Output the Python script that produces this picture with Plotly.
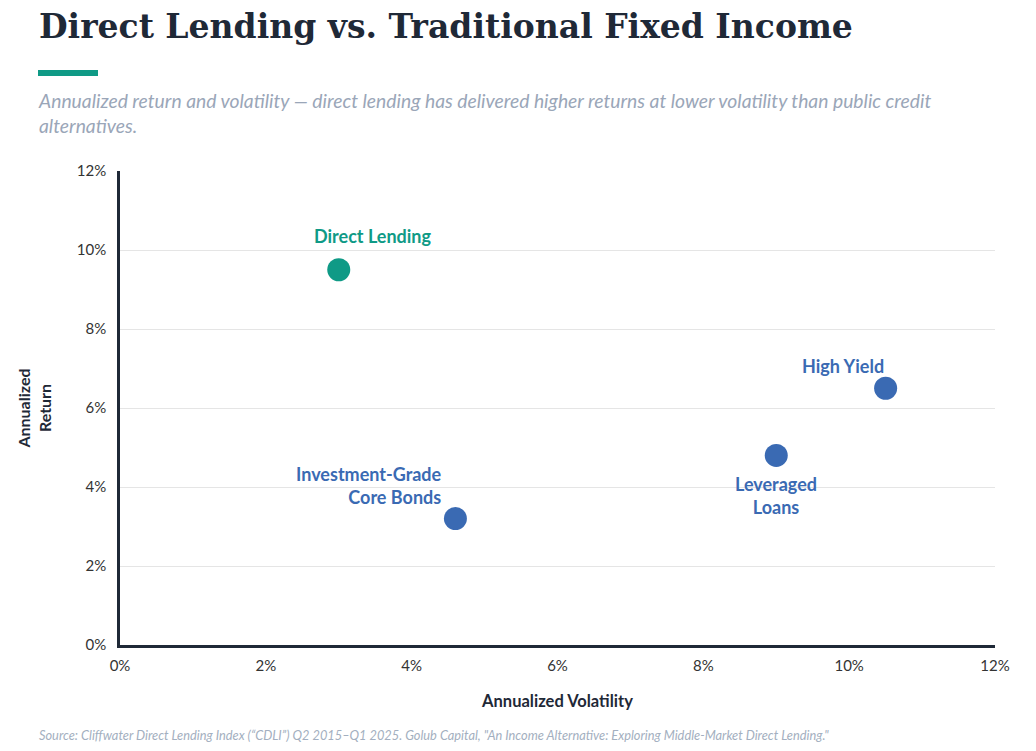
import plotly.graph_objects as go

# ---------------------------------------------------------
# Data
# ---------------------------------------------------------
assets = ["Direct Lending", "Investment-Grade<br>Core Bonds", "Leveraged<br>Loans", "High Yield"]
volatility = [3.0, 4.6, 9.0, 10.5]   # annualized volatility (%)
returns = [9.5, 3.2, 4.8, 6.5]       # annualized return (%)
tick_vals = [0, 2, 4, 6, 8, 10, 12]
tick_text = ["0%", "2%", "4%", "6%", "8%", "10%", "12%"]

TEAL = "#0f9a86"
BLUE = "#3a6ab3"
colors = [TEAL, BLUE, BLUE, BLUE]

# label placement: (xshift, yshift, xanchor)
label_style = [
    (34, 34, "center"),
    (-11, 33, "right"),
    (0, -40, "center"),
    (0, 22, "right"),
]

FONT = "Lato, 'Open Sans', Arial, sans-serif"

# page is 1036x751 but the body has an 8px margin
OFF = 8
W, H = 1036 - 2 * OFF, 751 - 2 * OFF
ML, MR, MT, MB = 120 - OFF, 1036 - 995 - OFF, 171 - OFF, 751 - 645 - OFF
pw, ph = W - ML - MR, H - MT - MB


def px(x):
    return (x - OFF - ML) / pw


def py(y):
    return 1 - (y - OFF - MT) / ph


# ---------------------------------------------------------
# Figure
# ---------------------------------------------------------
fig = go.Figure(
    go.Scatter(
        x=volatility,
        y=returns,
        mode="markers",
        marker=dict(size=23, color=colors, line=dict(width=0)),
        hoverinfo="skip",
        showlegend=False,
    )
)

for name, xv, yv, col, (dx, dy, anc) in zip(assets, volatility, returns, colors, label_style):
    fig.add_annotation(
        x=xv, y=yv, xref="x", yref="y",
        text=f"<b>{name}</b>",
        showarrow=False,
        xshift=dx, yshift=dy,
        xanchor=anc, yanchor="middle",
        align="right" if anc == "right" else "center",
        font=dict(family=FONT, size=18, color=col),
    )

# title, accent bar, subtitle, source
fig.add_annotation(
    x=px(37), y=py(26), xref="paper", yref="paper", showarrow=False,
    text="<b>Direct Lending vs. Traditional Fixed Income</b>",
    font=dict(family="'DejaVu Serif', serif", size=33, color="#1f2937"),
    xanchor="left", yanchor="middle",
)
fig.add_annotation(
    x=px(36), y=py(113), xref="paper", yref="paper", showarrow=False,
    text=("<i>Annualized return and volatility — direct lending has delivered higher returns at lower volatility than public credit"
          "<br>alternatives.</i>"),
    font=dict(family=FONT, size=19.3, color="#9aa6b8"),
    xanchor="left", yanchor="middle", align="left",
)
fig.add_annotation(
    x=px(37), y=py(735), xref="paper", yref="paper", showarrow=False,
    text=("<i>Source: Cliffwater Direct Lending Index (“CDLI”) Q2 2015–Q1 2025. Golub Capital, "
          "\"An Income Alternative: Exploring Middle-Market Direct Lending.\"</i>"),
    font=dict(family=FONT, size=12.8, color="#a3afc0"),
    xanchor="left", yanchor="middle",
)

fig.add_shape(
    type="rect", xref="paper", yref="paper",
    x0=px(38), x1=px(98), y0=py(76), y1=py(70),
    fillcolor=TEAL, line=dict(width=0),
)

fig.update_layout(
    width=W, height=H,
    margin=dict(l=ML, r=MR, t=MT, b=MB),
    plot_bgcolor="white",
    paper_bgcolor="white",
    font=dict(family=FONT, size=15, color="#333333"),
    xaxis=dict(
        range=[0, 12], tickvals=tick_vals, ticktext=tick_text,
        showgrid=False, zeroline=False,
        showline=True, linecolor="#1f2937", linewidth=2.5,
        ticks="", ticklabelstandoff=5,
        title=dict(text="<b>Annualized Volatility</b>", standoff=23,
                   font=dict(family=FONT, size=16.5, color="#1f2937")),
        tickfont=dict(family=FONT, size=15, color="#333333"),
    ),
    yaxis=dict(
        range=[0, 12], tickvals=tick_vals, ticktext=tick_text,
        showgrid=True, gridcolor="#e5e5e5", gridwidth=1, zeroline=False,
        showline=True, linecolor="#1f2937", linewidth=2.5,
        ticks="", ticklabelstandoff=8, automargin=False,
        title=dict(text="<b>Annualized<br>Return</b>", standoff=22,
                   font=dict(family=FONT, size=16, color="#1f2937")),
        tickfont=dict(family=FONT, size=15, color="#333333"),
    ),
)

fig.write_html("out.html")
